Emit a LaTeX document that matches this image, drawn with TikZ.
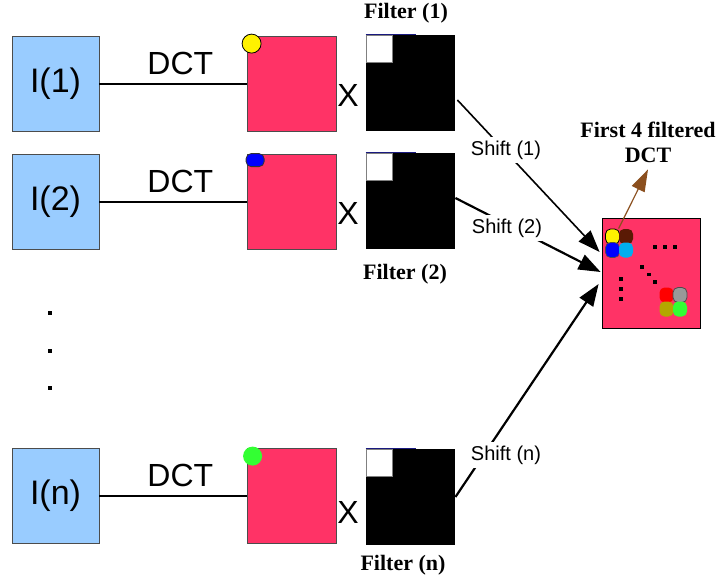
\documentclass[tikz,border=0pt]{standalone}
\usepackage{fontspec}
\setmainfont{Liberation Sans}
\newfontfamily\timesfont{Liberation Serif}
\usetikzlibrary{arrows.meta,positioning}

\definecolor{imgblue}{HTML}{99CCFF}
\definecolor{dctpink}{HTML}{FF3366}
\definecolor{arrowbrown}{HTML}{8B4F1E}
\definecolor{coefbrown}{HTML}{5A1A05}
\definecolor{coefolive}{HTML}{B3A800}
\definecolor{coefgreen}{HTML}{33FF33}
\definecolor{coefgray}{HTML}{999999}
\definecolor{edgeblue}{HTML}{1A1A80}

\begin{document}
\begin{tikzpicture}[x=0.5pt,y=-0.5pt,
	imgbox/.style={rectangle, draw=black!70, fill=imgblue, minimum width=43.5pt, minimum height=47.5pt, inner sep=0pt, font=\fontsize{17}{20}\selectfont},
	dctbox/.style={rectangle, draw=black!70, fill=dctpink, minimum width=44.5pt, minimum height=47.5pt, inner sep=0pt},
	filtbox/.style={rectangle, fill=black, minimum width=44.5pt, minimum height=48pt, inner sep=0pt},
	passband/.style={rectangle, fill=white, draw=black!50, line width=0.3pt, minimum width=13pt, minimum height=13.5pt, inner sep=0pt, anchor=north west},
	dctline/.style={line width=1pt},
	dctlabel/.style={above=2pt, inner sep=2pt, font=\fontsize{16}{18}\selectfont},
	timeslabel/.style={align=center, font=\fontsize{11}{12.5}\selectfont\timesfont\bfseries},
	shiftlabel/.style={fill=white, inner sep=2pt, font=\fontsize{10}{12}\selectfont},
	shiftarrow/.style={-{Triangle[length=11pt,width=8pt]}},
	dot/.style={rectangle, fill=black, minimum size=1.7pt, inner sep=0pt},
	coef/.style={rectangle, rounded corners=2.5pt, minimum width=7pt, minimum height=7.5pt, inner sep=0pt},
	blob/.style={circle, minimum size=9.5pt, inner sep=0pt}
	]
	\useasboundingbox (0,0) rectangle (716,579);
	
	%Images
	\node (img1) at (55.5,83.5) [imgbox]{I(1)};
	\node (img2) at (55.5,201.5) [imgbox]{I(2)};
	\node (imgn) at (55.5,496) [imgbox]{I(n)};
	
	\node (vdot1) at (50,313) [dot]{};
	\node (vdot2) at (50,351) [dot]{};
	\node (vdot3) at (50,388) [dot]{};
	
	%DCT blocks
	\node (dct1) at (291.5,83.5) [dctbox]{};
	\node (dct2) at (291.5,201.5) [dctbox]{};
	\node (dctn) at (291.5,496) [dctbox]{};
	
	\node (blob1) at ([shift={(5,8)}]dct1.north west) [blob, fill=yellow, draw=black, line width=0.4pt]{};
	\node (blob2) at ([shift={(8.5,6.5)}]dct2.north west) [coef, fill=blue, draw=black!80, line width=0.4pt, minimum width=9pt, minimum height=6.5pt]{};
	\node (blobn) at ([shift={(6,8)}]dctn.north west) [blob, fill=coefgreen]{};
	
	%RLinks
	\draw[dctline] (img1) -- node[dctlabel, pos=0.55]{DCT} (dct1);
	\draw[dctline] (img2) -- node[dctlabel, pos=0.55]{DCT} (dct2);
	\draw[dctline] (imgn) -- node[dctlabel, pos=0.55]{DCT} (dctn);
	
	\node (times1) at (348,95) [font=\fontsize{16}{18}\selectfont]{X};
	\node (times2) at (348,213) [font=\fontsize{16}{18}\selectfont]{X};
	\node (timesn) at (348,512) [font=\fontsize{16}{18}\selectfont]{X};
	
	%Filters
	\node (filt1) at (410.5,83) [filtbox]{};
	\node (filt2) at (410.5,201) [filtbox]{};
	\node (filtn) at (410.5,497) [filtbox]{};
	
	\node (pass1) at (filt1.north west) [passband]{};
	\node (pass2) at (filt2.north west) [passband]{};
	\node (passn) at (filtn.north west) [passband]{};
	\draw[edgeblue, line width=0.4pt] (filt1.north west) -- ++(50,0);
	\draw[edgeblue, line width=0.4pt] (filt2.north west) -- ++(50,0);
	\draw[edgeblue, line width=0.4pt] (filtn.north west) -- ++(50,0);
	
	\node (flabel1) at (406,13) [timeslabel]{Filter (1)};
	\node (flabel2) at (405,274) [timeslabel]{Filter (2)};
	\node (flabeln) at (403,565) [timeslabel]{Filter (n)};
	
	%Result
	\node (res) at (651,273) [dctbox, draw=black, minimum width=49pt, minimum height=55pt]{};
	
	\node (cy) at (612.5,236.5) [coef, fill=yellow, draw=black, line width=0.4pt]{};
	\node (cb) at (626,236.5) [coef, fill=coefbrown]{};
	\node (cbl) at (612.5,250) [coef, fill=blue, draw=black!70, line width=0.3pt]{};
	\node (cc) at (626,250) [coef, fill=cyan]{};
	\node (cr) at (666.5,295) [coef, fill=red]{};
	\node (cg) at (680,295) [coef, fill=coefgray, draw=black!70, line width=0.4pt]{};
	\node (co) at (666.5,309) [coef, fill=coefolive]{};
	\node (cgr) at (680,309) [coef, fill=coefgreen]{};
	
	\node (hdot1) at (655,247) [dot]{};
	\node (hdot2) at (665,247) [dot]{};
	\node (hdot3) at (675,247) [dot]{};
	\node (ddot1) at (642,267) [dot]{};
	\node (ddot2) at (649,274.5) [dot]{};
	\node (ddot3) at (655,282) [dot]{};
	\node (rdot1) at (621,279) [dot]{};
	\node (rdot2) at (621,289) [dot]{};
	\node (rdot3) at (621,299) [dot]{};
	
	\node (first) at (648,142) [timeslabel]{First 4 filtered\\DCT};
	\draw[-{Triangle[length=11pt,width=7pt]}, arrowbrown, line width=0.6pt] (cb.north west) -- (first.south);
	
	%Shifts
	\draw[shiftarrow, line width=0.8pt] ([shift={(2,17)}]filt1.east) -- ([shift={(-2,-21)}]res.west);
	\draw[shiftarrow, line width=1.1pt] ([shift={(0,-3)}]filt2.east) -- ([shift={(-1,-1)}]res.west);
	\draw[shiftarrow, line width=1.1pt] (filtn.east) -- ([shift={(-3,11)}]res.west);
	
	\node (shift1) at (506,150) [shiftlabel]{Shift (1)};
	\node (shift2) at (507,228) [shiftlabel]{Shift (2)};
	\node (shiftn) at (506,455) [shiftlabel]{Shift (n)};
	
\end{tikzpicture}
\end{document}
